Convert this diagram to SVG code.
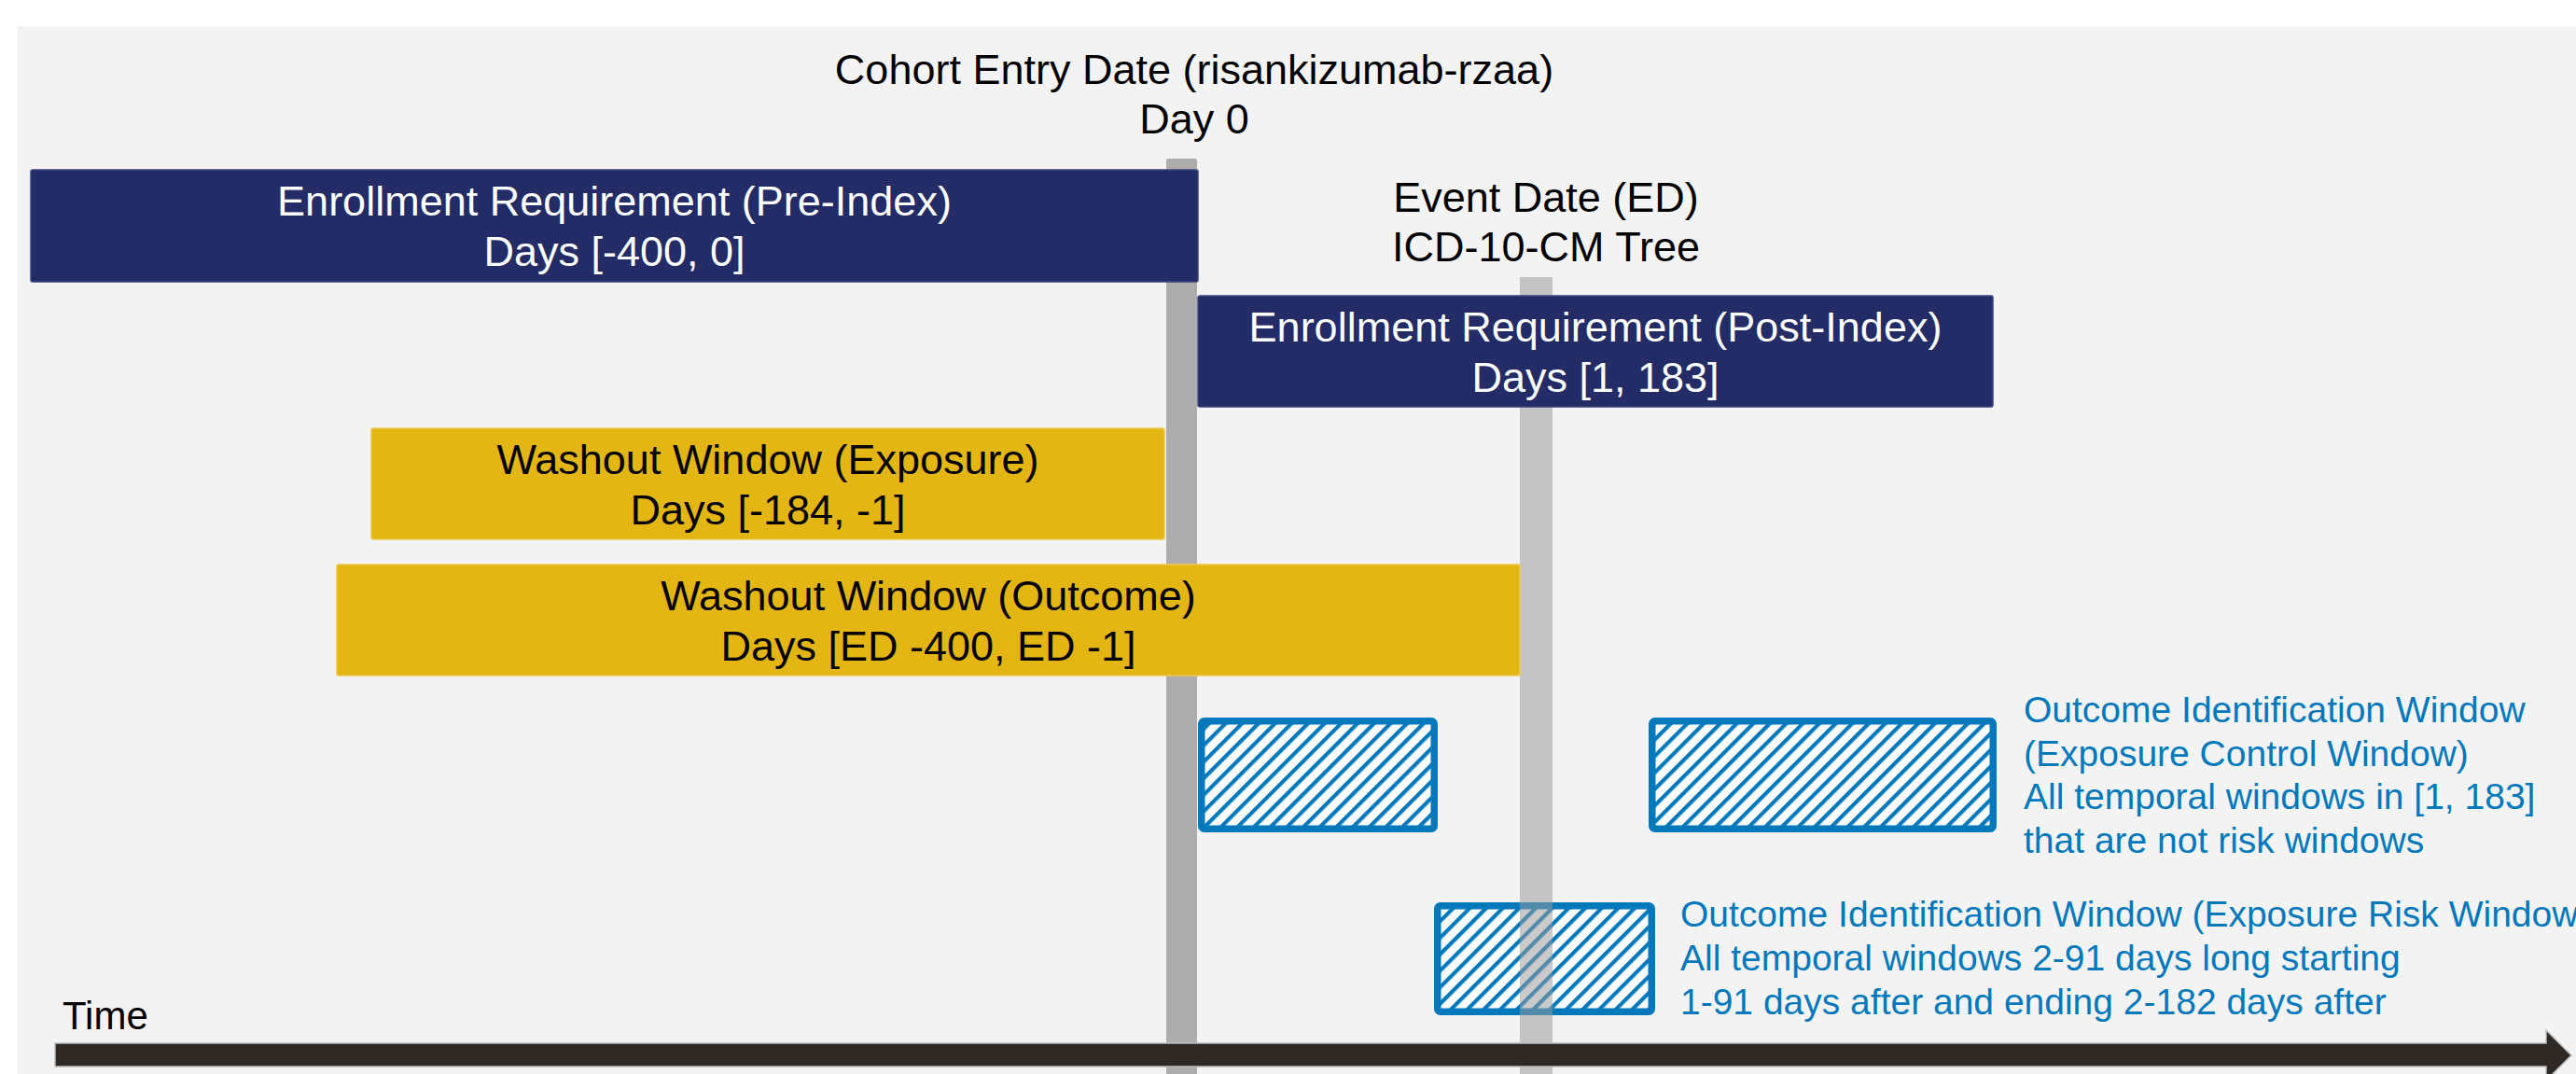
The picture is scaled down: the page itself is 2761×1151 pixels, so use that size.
<svg xmlns="http://www.w3.org/2000/svg" width="2761" height="1151" viewBox="0 0 2761 1151">
  <style>
    .lbl { font-family: "Liberation Sans", Arial, sans-serif; font-size: 45px; text-anchor: middle; }
    .dark { fill: #000000; }
    .light { fill: #FFFFFF; }
    .blue { font-family: "Liberation Sans", Arial, sans-serif; font-size: 39px; fill: #0079BC; }
    .navy { fill: #232C66; stroke: #3B4480; stroke-width: 1.5; }
    .gold { fill: #E3B614; stroke: #EBC94E; stroke-width: 1.5; }
    .hatchbox { fill: url(#hatch); stroke: #0079BC; stroke-width: 7.5; }
  </style>
  <defs>
    <pattern id="hatch" patternUnits="userSpaceOnUse" width="12.5" height="12.5" patternTransform="rotate(45)">
      <rect width="12.5" height="12.5" fill="#FFFFFF"/>
      <rect width="4.2" height="12.5" fill="#0079BC"/>
    </pattern>
  </defs>

  <rect x="0" y="0" width="2761" height="1151" fill="#FFFFFF"/>
  <rect id="panel" x="19" y="28" width="2742" height="1123" fill="#F3F3F3"/>

  <g id="day0-marker">
    <rect x="1250" y="170" width="33" height="990" rx="2" fill="#ADADAD"/>
  </g>

  <g id="control-window-1">
    <rect class="hatchbox" x="1287.75" y="772.75" width="249.5" height="115.5" rx="3"/>
  </g>
  <g id="control-window-2">
    <rect class="hatchbox" x="1770.75" y="772.75" width="365.5" height="115.5" rx="3"/>
  </g>
  <g id="risk-window">
    <rect class="hatchbox" x="1540.75" y="970.75" width="229.5" height="113.5" rx="3"/>
  </g>

  <g id="ed-marker">
    <rect x="1629" y="297" width="35" height="860" fill="#9A9A9A" fill-opacity="0.53"/>
  </g>

  <g id="pre-index">
    <rect class="navy" x="33" y="182" width="1251" height="120" rx="2"/>
    <text class="lbl light" x="658.5" y="231">Enrollment Requirement (Pre-Index)</text>
    <text class="lbl light" x="658.5" y="285">Days [-400, 0]</text>
  </g>

  <g id="post-index">
    <rect class="navy" x="1284" y="317" width="852" height="119" rx="2"/>
    <text class="lbl light" x="1710" y="365.5">Enrollment Requirement (Post-Index)</text>
    <text class="lbl light" x="1710" y="419.5">Days [1, 183]</text>
  </g>

  <g id="washout-exposure">
    <rect class="gold" x="398" y="459" width="850" height="119" rx="2"/>
    <text class="lbl dark" x="823" y="507.5">Washout Window (Exposure)</text>
    <text class="lbl dark" x="823" y="561.5">Days [-184, -1]</text>
  </g>

  <g id="washout-outcome">
    <rect class="gold" x="361" y="605" width="1268" height="119" rx="2"/>
    <text class="lbl dark" x="995" y="653.5">Washout Window (Outcome)</text>
    <text class="lbl dark" x="995" y="707.5">Days [ED -400, ED -1]</text>
  </g>

  <g id="cohort-entry-label">
    <text class="lbl dark" x="1280" y="90">Cohort Entry Date (risankizumab-rzaa)</text>
    <text class="lbl dark" x="1280" y="143">Day 0</text>
  </g>

  <g id="event-date-label">
    <text class="lbl dark" x="1657" y="227">Event Date (ED)</text>
    <text class="lbl dark" x="1657" y="280">ICD-10-CM Tree</text>
  </g>

  <g id="control-label">
    <text class="blue" x="2169" y="774">Outcome Identification Window</text>
    <text class="blue" x="2169" y="820.5">(Exposure Control Window)</text>
    <text class="blue" x="2169" y="867">All temporal windows in [1, 183]</text>
    <text class="blue" x="2169" y="913.5">that are not risk windows</text>
  </g>

  <g id="risk-label">
    <text class="blue" x="1801" y="993">Outcome Identification Window (Exposure Risk Window</text>
    <text class="blue" x="1801" y="1040">All temporal windows 2-91 days long starting</text>
    <text class="blue" x="1801" y="1087">1-91 days after and ending 2-182 days after</text>
  </g>

  <g id="connectors">
    <polygon points="59,1118 2729,1118 2729,1104 2756,1131 2729,1158 2729,1143 59,1143" fill="#2E2925" stroke="#BDBDBD" stroke-width="1.5"/>
  </g>

  <g id="time-label">
    <text x="67" y="1103" style="font-family: 'Liberation Sans', Arial, sans-serif; font-size: 42px; fill: #000000;">Time</text>
  </g>
</svg>
